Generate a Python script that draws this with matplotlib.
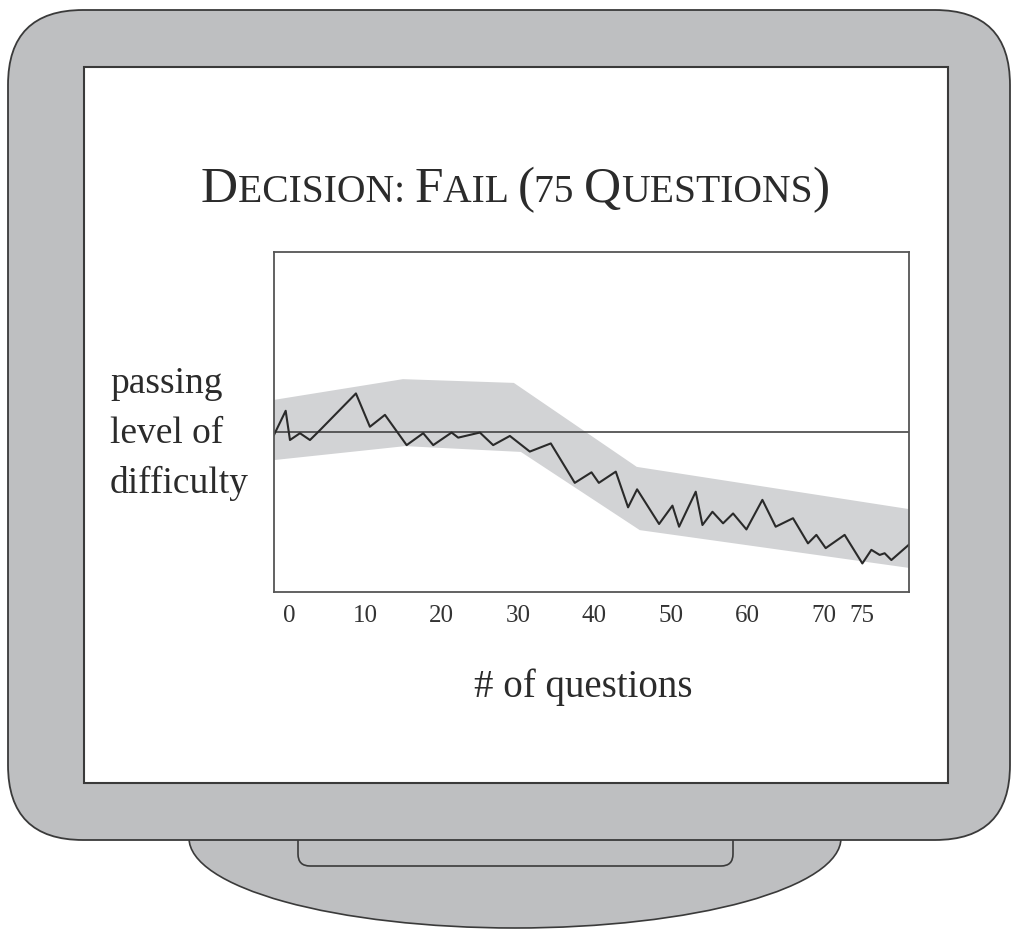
import matplotlib
matplotlib.use('Agg')
import matplotlib.pyplot as plt
from matplotlib.patches import FancyBboxPatch, Rectangle, Ellipse

# line of question difficulty (x = question number, y = difficulty)
q_x = [-1.96, -0.43, 0.13, 1.44, 2.75, 3.97, 8.77, 10.60, 12.57, 15.41,
       17.58, 18.89, 21.30, 22.16, 25.00, 26.74, 28.93, 31.54, 34.29, 37.43,
       39.62, 40.58, 42.80, 44.41, 45.59, 48.47, 50.22, 51.09, 53.27, 54.15,
       55.46, 56.85, 58.16, 59.91, 62.00, 63.74, 66.01, 67.97, 69.07, 70.29,
       72.77, 75.09, 76.27, 77.36, 78.01, 78.89, 81.28]
q_y = [46.2, 53.3, 44.7, 46.7, 44.7, 47.4, 58.4, 48.6, 52.1, 43.2,
       46.7, 43.2, 46.9, 45.4, 46.9, 43.2, 45.9, 41.3, 43.7, 32.1,
       35.2, 32.1, 35.4, 24.9, 30.2, 20.0, 25.4, 19.2, 29.5, 19.7,
       23.6, 20.2, 23.1, 18.4, 27.1, 19.2, 21.7, 14.3, 16.8, 12.9,
       16.8, 8.4, 12.4, 10.9, 11.4, 9.4, 14.1]

# confidence band
band_up_x = [-1.96, 14.92, 29.45, 45.55, 81.15]
band_up_y = [56.5, 62.6, 61.5, 36.8, 24.4]
band_lo_x = [-1.96, 15.2, 30.37, 45.94, 81.15]
band_lo_y = [38.8, 42.9, 41.2, 18.2, 7.1]

passing_level = 47.1
ticks = [0, 10, 20, 30, 40, 50, 60, 70, 75]

title_parts = [("D", True), ("ECISION: ", False), ("F", True), ("AIL ", False),
               ("(", True), ("75 ", False), ("Q", True), ("UESTIONS", False), (")", True)]
ylabel_lines = ["passing", "level of", "difficulty"]

serif = 'Liberation Serif'
gray = '#bebfc1'
edge = '#3a3a3a'
ink = '#2b2b2b'

fig = plt.figure(figsize=(10.13, 9.3), dpi=100)
bg = fig.add_axes([0, 0, 1, 1])
bg.set_xlim(0, 1013)
bg.set_ylim(930, 0)
bg.axis('off')

# monitor stand
bg.add_patch(Ellipse((515, 838), 652, 180, fc=gray, ec=edge, lw=1.2, zorder=1))
bg.add_patch(FancyBboxPatch((298, 820), 435, 46, boxstyle="round,pad=0,rounding_size=12",
                            fc=gray, ec=edge, lw=1.2, zorder=2))
# frame and screen
bg.add_patch(FancyBboxPatch((8, 10), 1002, 830, boxstyle="round,pad=0,rounding_size=75",
                            fc=gray, ec=edge, lw=1.3, zorder=3))
bg.add_patch(Rectangle((84, 67), 864, 716, fc='white', ec=edge, lw=1.5, zorder=4))

# title in small caps
r = fig.canvas.get_renderer()
texts = []
x = 0
for s, big in title_parts:
    t = bg.text(x, 202, s, fontsize=37 if big else 28.5, family=serif, color=ink,
                ha='left', va='baseline', zorder=5)
    texts.append(t)
    x += t.get_window_extent(r).width
off = 515 - x / 2
for t in texts:
    t.set_x(t.get_position()[0] + off)

for i, line in enumerate(ylabel_lines):
    bg.text(110, 393 + i * 50, line, fontsize=27, family=serif, color=ink,
            ha='left', va='baseline', zorder=5)
bg.text(583, 697, "# of questions", fontsize=28, family=serif, color=ink,
        ha='center', va='baseline', zorder=5)

ax = fig.add_axes([274 / 1013, (930 - 592) / 930, 635 / 1013, 340 / 930], zorder=6)
ax.set_facecolor('white')
ax.set_xlim(-1.96, 81.2)
ax.set_ylim(0, 100)
ax.fill(band_up_x + band_lo_x[::-1], band_up_y + band_lo_y[::-1], color='#d2d3d5', lw=0)
ax.axhline(passing_level, color='#444444', lw=1.2)
ax.plot(q_x, q_y, color='#2a2a2a', lw=1.5)
ax.set_xticks(ticks)
ax.set_xticklabels([str(v) for v in ticks], family=serif, fontsize=18, color='#333333')
ax.tick_params(axis='x', length=0, pad=9)
ax.set_yticks([])
for sp in ax.spines.values():
    sp.set_color('#555555')
    sp.set_linewidth(1.3)

fig.savefig('out.png', dpi=100)
